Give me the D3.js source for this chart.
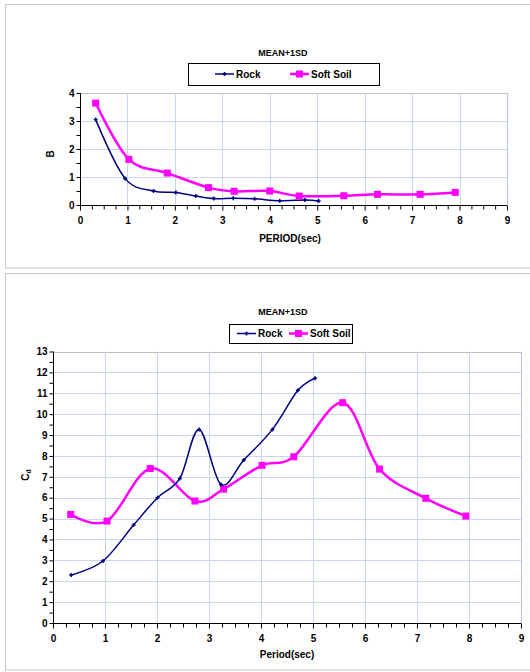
<!DOCTYPE html>
<html><head><meta charset="utf-8">
<script src="https://cdn.jsdelivr.net/npm/d3@7"></script>
<style>
body{margin:0;background:#fff;}
svg{display:block;font-family:"Liberation Sans",Arial,sans-serif;font-weight:bold;}
</style></head>
<body>
<svg id="c" width="530" height="672"></svg>
<script>
// ---- data ----
const seriesNames = ["Rock", "Soft Soil"];
const titleText = "MEAN+1SD";
const xTicks = [0,1,2,3,4,5,6,7,8,9];
const yTicksTop = [0,1,2,3,4];
const yTicksBot = [0,1,2,3,4,5,6,7,8,9,10,11,12,13];

const rockTopX = [0.33,0.95,1.55,2.02,2.44,2.82,3.23,3.68,4.21,4.74,5.03];
const rockTopY = [3.05,0.95,0.50,0.45,0.32,0.23,0.24,0.22,0.15,0.18,0.14];
const softTopX = [0.33,1.03,1.84,2.71,3.25,4.00,4.62,5.56,6.27,7.17,7.91];
const softTopY = [3.64,1.63,1.14,0.62,0.49,0.50,0.32,0.33,0.38,0.38,0.45];

const rockBotX = [0.35,0.96,1.55,2.01,2.44,2.81,3.23,3.67,4.22,4.71,5.04];
const rockBotY = [2.30,2.97,4.69,6.00,6.92,9.27,6.63,7.80,9.27,11.14,11.72];
const softBotX = [0.34,1.04,1.87,2.73,3.28,4.02,4.63,5.57,6.28,7.17,7.94];
const softBotY = [5.20,4.88,7.40,5.84,6.41,7.55,7.96,10.55,7.37,5.97,5.12];

const rockColor = "#000080", softColor = "#ff00ff";
const svg = d3.select("#c");

// panel borders
svg.append("rect").attr("x",5.5).attr("y",4.5).attr("width",530).attr("height",263.5)
  .attr("fill","none").attr("stroke","#c8c8c8").attr("stroke-width",1);
svg.append("rect").attr("x",5.5).attr("y",273.5).attr("width",530).attr("height",396.5)
  .attr("fill","none").attr("stroke","#c8c8c8").attr("stroke-width",1);

function panel(cfg){
  const x = d3.scaleLinear().domain([0,9]).range([cfg.x0,cfg.x1]);
  const y = d3.scaleLinear().domain([0,cfg.ymax]).range([cfg.y0,cfg.y1]);
  const g = svg.append("g");
  // grid
  g.append("g").selectAll("line").data(cfg.yTicks.slice(1)).join("line")
    .attr("x1",cfg.x0).attr("x2",cfg.x1).attr("y1",d=>Math.round(y(d))+0.5).attr("y2",d=>Math.round(y(d))+0.5)
    .attr("stroke",d=>d===cfg.ymax?"#c0c0c0":"#c8d6f0").attr("stroke-width",1);
  g.append("g").selectAll("line").data(xTicks.slice(1)).join("line")
    .attr("x1",d=>Math.round(x(d))+0.5).attr("x2",d=>Math.round(x(d))+0.5).attr("y1",cfg.y0).attr("y2",cfg.y1)
    .attr("stroke",d=>d===9?"#b8c4dc":"#c8d6f0").attr("stroke-width",1);

  // axes
  const xAxis = d3.axisBottom(x).tickValues(d3.range(0,9.001,0.25)).tickSize(4)
    .tickFormat(d=> Number.isInteger(d)? d : "");
  const ax = g.append("g").attr("transform",`translate(0,${Math.round(cfg.y0)+0.5})`).call(xAxis);
  ax.select(".domain").attr("stroke","#000").attr("d",`M${cfg.x0},0H${cfg.x1}`);
  ax.selectAll(".tick line").attr("stroke","#000");
  ax.selectAll(".tick").filter(d=>Number.isInteger(d)).select("line").attr("y2",5);
  ax.selectAll("text").attr("font-size",10).attr("font-weight","bold").attr("fill","#000").attr("dy","0.71em").attr("y",cfg.xLabY);

  const yAxis = d3.axisLeft(y).tickValues(d3.range(0,cfg.ymax+0.001,0.5)).tickSize(4)
    .tickFormat(d=> Number.isInteger(d)? d : "");
  const ay = g.append("g").attr("transform",`translate(${Math.round(cfg.x0)+0.5},0)`).call(yAxis);
  ay.select(".domain").attr("stroke","#000").attr("d",`M0,${cfg.y0}V${cfg.y1}`);
  ay.selectAll(".tick line").attr("stroke","#000");
  ay.selectAll("text").attr("font-size",10).attr("font-weight","bold").attr("fill","#000").attr("x",-6);

  const line = d3.line().x(d=>x(d[0])).y(d=>y(d[1])).curve(d3.curveCardinal.tension(0));
  const rock = d3.zip(cfg.rx,cfg.ry), soft = d3.zip(cfg.sx,cfg.sy);
  g.append("path").datum(soft).attr("d",line).attr("fill","none").attr("stroke",softColor).attr("stroke-width",2.5);
  g.append("path").datum(rock).attr("d",line).attr("fill","none").attr("stroke",rockColor).attr("stroke-width",1.5);
  g.append("g").selectAll("rect").data(soft).join("rect")
    .attr("x",d=>x(d[0])-3.5).attr("y",d=>y(d[1])-3.5).attr("width",7).attr("height",7).attr("fill",softColor);
  g.append("g").selectAll("path").data(rock).join("path")
    .attr("d",d=>`M${x(d[0])-2},${y(d[1])}H${x(d[0])+2}M${x(d[0])},${y(d[1])-2}V${y(d[1])+2}`)
    .attr("stroke",rockColor).attr("stroke-width",1.5);

  // title
  svg.append("text").attr("x",cfg.titleX).attr("y",cfg.titleY).attr("text-anchor","middle")
    .attr("font-size",9).text(titleText);
  // legend
  const L = cfg.leg;
  svg.append("rect").attr("x",L.x+0.5).attr("y",L.y+0.5).attr("width",L.w).attr("height",L.h)
    .attr("fill","#fff").attr("stroke","#000").attr("stroke-width",1);
  const ly = L.y + L.h/2;
  svg.append("line").attr("x1",L.r1).attr("x2",L.r1+19).attr("y1",ly).attr("y2",ly).attr("stroke",rockColor).attr("stroke-width",1.5);
  svg.append("path").attr("d",`M${L.r1+9.5-2},${ly}H${L.r1+9.5+2}M${L.r1+9.5},${ly-2}V${ly+2}`).attr("stroke",rockColor).attr("stroke-width",1.5);
  svg.append("text").attr("x",L.r1+21).attr("y",ly).attr("dy","0.35em").attr("font-size",10).text(seriesNames[0]);
  svg.append("line").attr("x1",L.s1).attr("x2",L.s1+19).attr("y1",ly).attr("y2",ly).attr("stroke",softColor).attr("stroke-width",2.5);
  svg.append("rect").attr("x",L.s1+9.5-3.5).attr("y",ly-3.5).attr("width",7).attr("height",7).attr("fill",softColor);
  svg.append("text").attr("x",L.s1+21).attr("y",ly).attr("dy","0.35em").attr("font-size",10).text(seriesNames[1]);

  // axis titles
  const xt = svg.append("text").attr("x",cfg.xTitleX).attr("y",cfg.xTitleY).attr("text-anchor","middle").attr("font-size",10);
  xt.text(cfg.xTitle);
  const yt = svg.append("text").attr("transform",`translate(${cfg.yTitleX},${cfg.yTitleY}) rotate(-90)`)
    .attr("text-anchor","middle").attr("font-size",10);
  yt.append("tspan").text(cfg.yTitle);
  if(cfg.ySub) yt.append("tspan").attr("font-size",7).attr("dy",2).text(cfg.ySub);
}

panel({x0:80,x1:507,y0:205,y1:93,ymax:4,yTicks:yTicksTop,rx:rockTopX,ry:rockTopY,sx:softTopX,sy:softTopY,
  xLabY:11,titleX:283,titleY:56,leg:{x:188,y:63,w:191,h:22,r1:215,s1:290},
  xTitle:"PERIOD(sec)",xTitleX:290,xTitleY:242,yTitle:"B",yTitleX:54,yTitleY:154});
panel({x0:53,x1:521,y0:623,y1:351.5,ymax:13,yTicks:yTicksBot,rx:rockBotX,ry:rockBotY,sx:softBotX,sy:softBotY,
  xLabY:11,titleX:283,titleY:315,leg:{x:229,y:324,w:123,h:19,r1:237,s1:289},
  xTitle:"Period(sec)",xTitleX:287,xTitleY:658,yTitle:"C",ySub:"d",yTitleX:29,yTitleY:475});
</script>
</body></html>
